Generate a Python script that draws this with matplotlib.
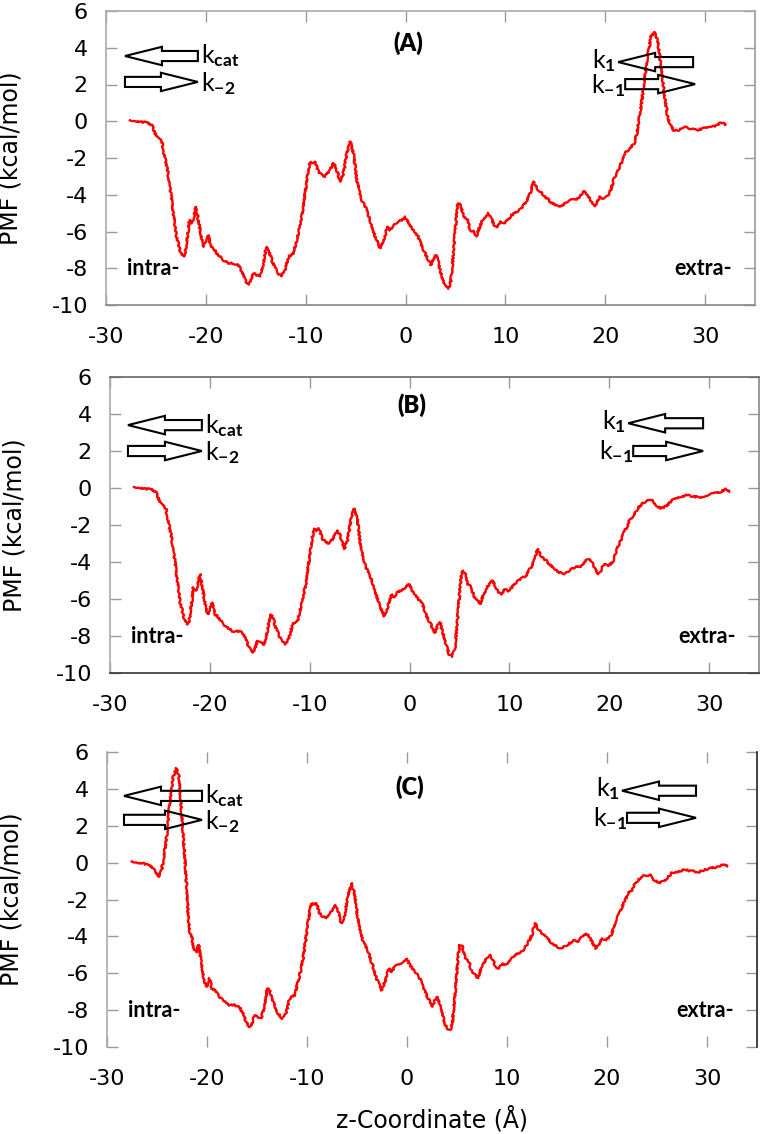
import numpy as np
import matplotlib
matplotlib.use('Agg')
import matplotlib.pyplot as plt
from matplotlib.patches import FancyArrow

plt.rc('font', family='DejaVu Sans', size=16)
plt.rc('axes', unicode_minus=False)
plt.rc('mathtext', fontset='custom', rm='Lato', bf='Lato:bold', it='Lato:italic')

# PMF profiles (z in Angstrom, PMF in kcal/mol)
# start of the profile, panels A and B
z_start_ab = [-27.6, -26.8, -25.9, -25.4, -25.1, -24.76, -24.4, -24.2, -23.9, -23.6,
              -23.25, -23.0, -22.6, -22.25, -22.1, -21.8, -21.65, -21.4, -21.2, -21.0,
              -20.75, -20.4, -20.2, -19.9, -19.74]
pmf_start_ab = [0.05, 0.0, -0.08, -0.2, -0.66, -0.93, -1.1, -1.75, -2.47, -3.56,
                -5.0, -6.1, -7.0, -7.37, -7.28, -6.1, -5.37, -5.55, -5.2, -4.65,
                -5.37, -6.46, -6.83, -6.37, -6.2]

# start of the profile, panel C (barrier on the intra- side)
z_start_c = [-27.53, -26.9, -26.37, -25.53, -25.03, -24.8, -24.53, -24.3, -24.03, -23.7,
             -23.37, -23.1, -22.8, -22.53, -22.2, -21.97, -21.77, -21.53, -21.37, -21.03,
             -20.83, -20.6, -20.3, -20.03, -19.77]
pmf_start_c = [0.06, 0.0, -0.03, -0.22, -0.58, -0.76, -0.4, 0.33, 1.41, 3.4,
               4.67, 5.12, 4.67, 2.68, 0.15, -2.02, -3.65, -4.01, -4.74, -4.83,
               -4.46, -5.28, -6.36, -6.73, -6.27]

# middle part shared by all three panels
z_mid = [-19.5, -19.25, -18.75, -18.25, -17.75, -17.24, -16.74, -16.4, -16.07, -15.74,
         -15.5, -15.24, -14.9, -14.57, -14.24, -13.97, -13.74, -13.4, -12.9, -12.46,
         -12.06, -11.73, -11.23, -10.73, -10.39, -10.06, -9.73, -9.56, -9.3, -9.06,
         -8.73, -8.4, -8.06, -7.56, -7.22, -6.89, -6.55, -6.22, -5.88, -5.55,
         -5.22, -4.88, -4.38, -3.88, -3.55, -3.05, -2.55, -2.21, -1.8, -1.54,
         -1.21, -0.71, -0.37, -0.04, 0.29, 0.79, 1.29, 1.63, 2.13, 2.53,
         2.8, 3.07, 3.3, 3.64, 3.97, 4.3, 4.54, 4.8, 5.07, 5.24,
         5.54, 5.8, 6.2, 6.47, 6.8, 7.07, 7.3, 7.64, 7.98, 8.31,
         8.58, 8.88, 9.21, 9.55, 9.88, 10.25, 10.65, 11.15, 11.65, 12.15,
         12.49, 12.82, 13.16, 13.5, 13.99, 14.49, 14.99, 15.49, 15.99, 16.49,
         16.82, 17.15, 17.5, 17.9, 18.23, 18.57, 18.9, 19.17, 19.44, 19.77,
         20.17, 20.5, 20.83, 21.17, 21.5, 21.77, 22.1, 22.5]
pmf_mid = [-6.83, -6.92, -7.28, -7.55, -7.73, -7.73, -7.82, -8.19, -8.64, -8.91,
           -8.73, -8.27, -8.37, -8.46, -7.73, -6.83, -6.92, -7.55, -8.19, -8.46,
           -8.1, -7.37, -7.19, -6.1, -5.2, -3.92, -2.65, -2.2, -2.3, -2.2,
           -2.75, -2.93, -3.0, -2.65, -2.29, -2.65, -3.29, -2.83, -1.74, -1.11,
           -1.74, -3.2, -4.29, -4.83, -5.37, -6.28, -6.92, -6.46, -5.74, -5.92,
           -5.65, -5.47, -5.37, -5.19, -5.56, -5.92, -6.28, -6.83, -7.37, -7.82,
           -7.46, -7.28, -7.73, -8.46, -9.0, -9.09, -8.69, -7.19, -5.37, -4.47,
           -4.56, -5.19, -5.37, -5.92, -6.0, -6.28, -5.92, -5.47, -5.19, -5.01,
           -5.28, -5.65, -5.74, -5.47, -5.56, -5.37, -5.1, -4.92, -4.74, -4.29,
           -3.93, -3.29, -3.65, -3.83, -4.1, -4.38, -4.56, -4.65, -4.47, -4.29,
           -4.2, -4.29, -4.01, -3.83, -4.01, -4.38, -4.65, -4.47, -4.1, -4.2,
           -4.1, -3.83, -3.2, -2.83, -2.38, -2.11, -1.66, -1.47]

# end of the profile, panel A (barrier on the extra- side)
z_end_a = [22.9, 23.17, 23.68, 24.18, 24.58, 24.91, 25.25, 25.68, 26.0, 26.25,
           26.5, 26.85, 27.35, 27.85, 28.5, 29.19, 29.85, 30.5, 31.0, 31.5, 31.85, 32.0]
pmf_end_a = [-1.2, -0.66, 1.16, 3.33, 4.6, 4.87, 4.42, 2.6, 1.16, 0.25,
             -0.2, -0.48, -0.48, -0.3, -0.39, -0.48, -0.39, -0.26, -0.3, -0.11, -0.08, -0.2]

# end of the profile, panels B and C
z_end_bc = [22.83, 23.33, 23.83, 24.33, 24.67, 25.17, 25.67, 26.0, 26.5, 27.17,
            27.83, 28.5, 29.17, 29.83, 30.5, 31.17, 31.67, 32.0]
pmf_end_bc = [-1.1, -0.83, -0.68, -0.68, -0.92, -1.1, -1.0, -0.83, -0.56, -0.47,
              -0.38, -0.47, -0.5, -0.38, -0.29, -0.2, -0.07, -0.2]

xticks = [-30, -20, -10, 0, 10, 20, 30]
yticks = [-10, -8, -6, -4, -2, 0, 2, 4, 6]

curves = {
    'A': (z_start_ab + z_mid + z_end_a, pmf_start_ab + pmf_mid + pmf_end_a),
    'B': (z_start_ab + z_mid + z_end_bc, pmf_start_ab + pmf_mid + pmf_end_bc),
    'C': (z_start_c + z_mid + z_end_bc, pmf_start_c + pmf_mid + pmf_end_bc),
}

W, H = 760, 1134
fig = plt.figure(figsize=(W / 100, H / 100), dpi=100)

# pixel boxes (left, top, right, bottom) and decoration per panel
panels = [
    dict(name='A', box=(106, 11, 755, 305), title=(-1.2, 4.26),
         left=(-28.1, -20.8, 3.55, 2.14), right=(21.3, 28.8, 22.0, 29.0, 3.22, 2.02),
         spines=dict(top='#aaaaaa', bottom='#888888', left='#aaaaaa', right='#999999')),
    dict(name='B', box=(110, 377, 759, 673), title=(-1.24, 4.49),
         left=(-28.2, -20.8, 3.4, 2.0), right=(21.9, 29.4, 22.4, 29.4, 3.5, 2.0),
         spines=dict(top='#666666', bottom='#333333', left='#aaaaaa', right='#888888')),
    dict(name='C', box=(107, 752, 757, 1047), title=(-1.2, 4.1),
         left=(-28.3, -20.5, 3.62, 2.32), right=(21.5, 28.9, 22.0, 28.9, 3.9, 2.43),
         spines=dict(top=None, bottom=None, left='#aaaaaa', right='#222222')),
]

def arrow(ax, x0, x1, y):
    ax.add_patch(FancyArrow(x0, y, x1 - x0, 0, width=0.55, head_width=1.0,
                            head_length=3.7, length_includes_head=True,
                            fc='none', ec='black', lw=1.5, zorder=4))

for p in panels:
    l, t, r, b = p['box']
    ax = fig.add_axes([l / W, 1 - b / H, (r - l) / W, (b - t) / H])
    z, pmf = curves[p['name']]
    line, = ax.plot(z, pmf, color='#ff0000', lw=1.7, zorder=3)
    line.set_sketch_params(scale=0.8, length=3, randomness=8)
    ax.set_xlim(-30, 35)
    ax.set_ylim(-10, 6)
    ax.set_xticks(xticks)
    ax.set_yticks(yticks)
    ax.tick_params(direction='in', length=8, width=1, color='#999999',
                   top=True, right=True, labelsize=16)
    ax.tick_params(axis='y', pad=13)
    ax.tick_params(axis='x', pad=16)
    for side, col in p['spines'].items():
        if col is None:
            ax.spines[side].set_visible(False)
        else:
            ax.spines[side].set_color(col)
            ax.spines[side].set_linewidth(1.2)
    ax.set_ylabel('PMF (kcal/mol)', fontsize=17)
    ax.yaxis.set_label_coords(-0.128, 0.5)

    ax.text(p['title'][0], p['title'][1], '(%s)' % p['name'], family='Lato',
            fontweight='heavy', fontsize=17, ha='left', va='center')
    ax.text(-27.9, -8, 'intra-', family='Lato', fontweight='bold', fontsize=15.5,
            ha='left', va='center')
    ax.text(32.7, -8, 'extra-', family='Lato', fontweight='bold', fontsize=15.5,
            ha='right', va='center')

    tip, tail, y_cat, y_m2 = p['left']
    arrow(ax, tail, tip, y_cat)
    arrow(ax, tip, tail, y_m2)
    ax.text(tail + 0.3, y_cat, r'k$_{\mathbf{cat}}$', family='Lato', fontsize=18,
            ha='left', va='center')
    ax.text(tail + 0.3, y_m2 - 0.1, r'k$_{\mathbf{-2}}$', family='Lato', fontsize=18,
            ha='left', va='center')

    tip1, tail1, tailm1, tipm1, y1, ym1 = p['right']
    arrow(ax, tail1, tip1, y1)
    arrow(ax, tailm1, tipm1, ym1)
    ax.text(tip1 - 0.2, y1 + 0.1, r'k$_{\mathbf{1}}$', family='Lato', fontsize=18,
            ha='right', va='center')
    ax.text(tailm1, ym1 - 0.05, r'k$_{\mathbf{-1}}$', family='Lato', fontsize=18,
            ha='right', va='center')

    if p['name'] == 'C':
        ax.set_xlabel('z-Coordinate (Å)', fontsize=17)
        ax.xaxis.set_label_coords(0.5, -0.2)

fig.savefig('out.png', dpi=100)
